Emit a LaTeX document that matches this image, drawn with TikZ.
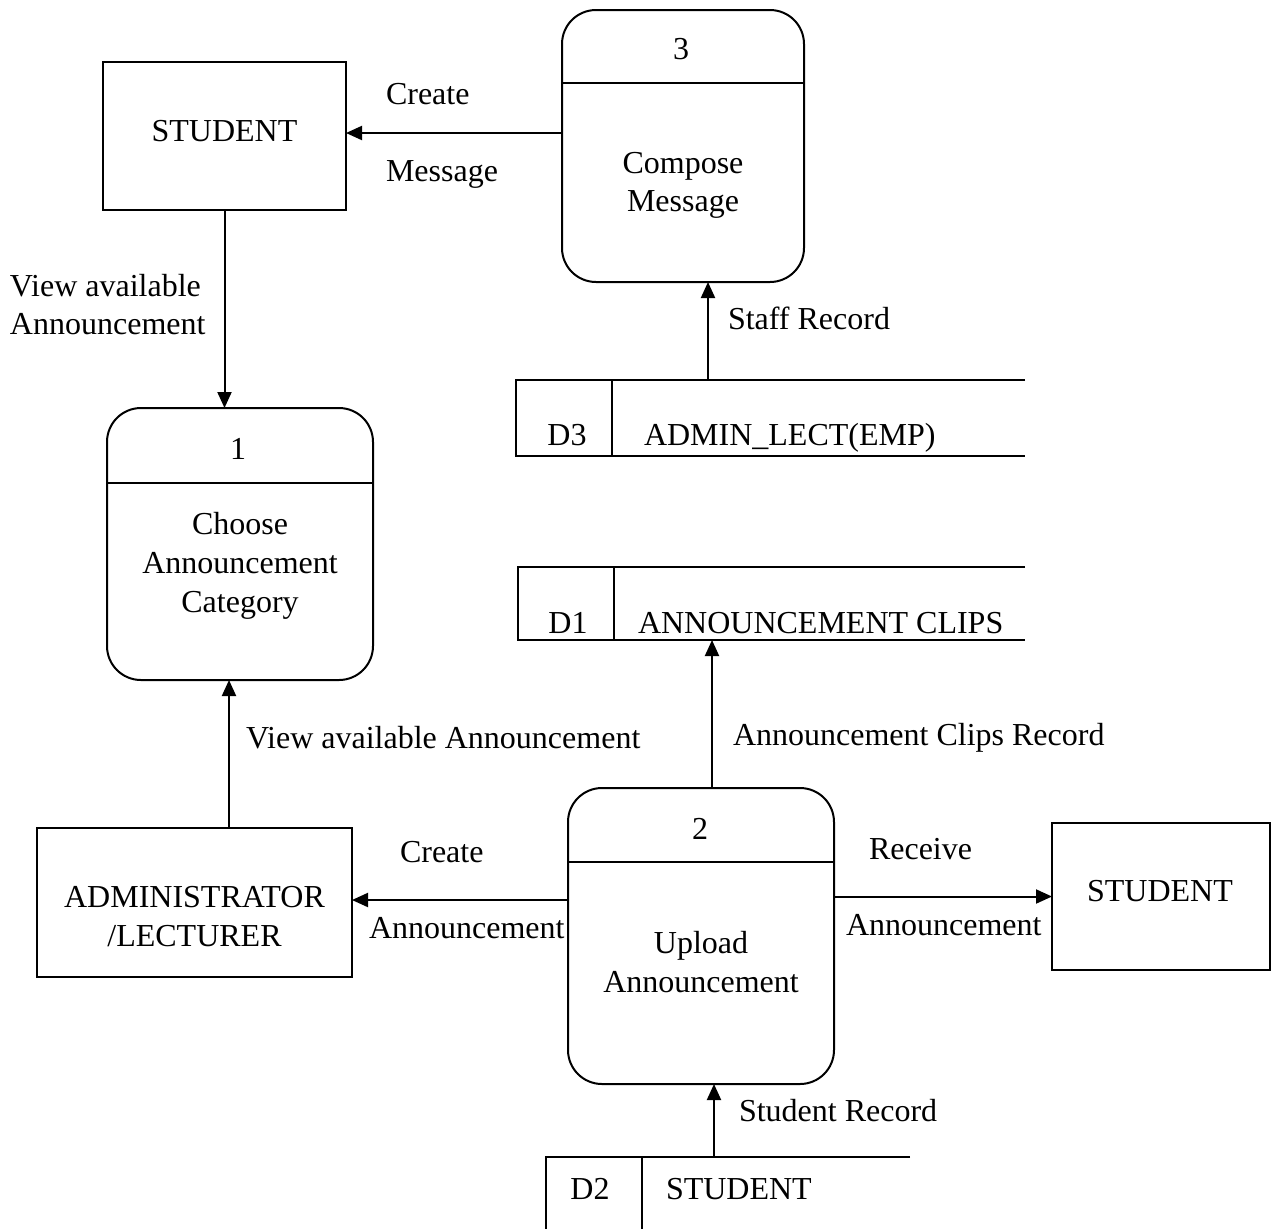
\documentclass[tikz,border=0pt]{standalone}
\usepackage{fontspec}
\setmainfont{Liberation Serif}
\usetikzlibrary{arrows.meta}
\begin{document}
\begin{tikzpicture}[x=0.5pt,y=-0.5pt,
  every node/.style={font=\fontsize{16}{19.5}\selectfont, inner sep=0pt, outer sep=0pt},
  entity/.style={draw, line width=1pt, rectangle},
  process/.style={draw, line width=1pt, rectangle, rounded corners=17pt},
  store/.style={line width=1pt},
  flow/.style={line width=1pt, -{Triangle[length=8pt,width=7pt]}},
  lbl/.style={anchor=base west},
  ctr/.style={anchor=base}]
\useasboundingbox (0,0) rectangle (1275,1228);

% external entities
\node[entity, minimum width=121.5pt, minimum height=74pt] (S1) at (224.5,136) {};
\node[ctr] (S1t) at (224.5,141) {STUDENT};
\node[entity, minimum width=157.5pt, minimum height=74.5pt] (AD) at (194.5,902.5) {};
\node[ctr] (ADt1) at (194.5,907) {ADMINISTRATOR};
\node[ctr] (ADt2) at (194.5,946) {/LECTURER};
\node[entity, minimum width=109pt, minimum height=73.5pt] (S2) at (1161,896.5) {};
\node[ctr] (S2t) at (1160,901) {STUDENT};

% processes
\node[process, minimum width=121pt, minimum height=136pt] (P3) at (683,146) {};
\draw[line width=1pt] (P3.west |- 0,83) -- (P3.east |- 0,83);
\node[ctr] (P3n) at (681,59) {3};
\node[ctr] (P3a) at (683,173) {Compose};
\node[ctr] (P3b) at (683,211) {Message};

\node[process, minimum width=133pt, minimum height=136pt] (P1) at (240,544) {};
\draw[line width=1pt] (P1.west |- 0,483) -- (P1.east |- 0,483);
\node[ctr] (P1n) at (238,459) {1};
\node[ctr] (P1a) at (240,534) {Choose};
\node[ctr] (P1b) at (240,573) {Announcement};
\node[ctr] (P1c) at (240,612) {Category};

\node[process, minimum width=133pt, minimum height=148pt] (P2) at (701,936) {};
\draw[line width=1pt] (P2.west |- 0,862) -- (P2.east |- 0,862);
\node[ctr] (P2n) at (700,839) {2};
\node[ctr] (P2a) at (701,953) {Upload};
\node[ctr] (P2b) at (701,992) {Announcement};

% data stores
\draw[store] (1025,380) -- (516,380) -- (516,456) -- (1025,456);
\draw[store] (612,380) -- (612,456);
\coordinate (D3in) at (708,380);
\node[ctr] (D3id) at (567,445) {D3};
\node[lbl] (D3nm) at (644,445) {ADMIN\_LECT(EMP)};

\draw[store] (1025,567) -- (518,567) -- (518,640) -- (1025,640);
\draw[store] (614,567) -- (614,640);
\coordinate (D1in) at (712,640);
\node[ctr] (D1id) at (568,633) {D1};
\node[lbl] (D1nm) at (638,633) {ANNOUNCEMENT CLIPS};

\draw[store] (910,1157) -- (546,1157) -- (546,1230);
\draw[store] (642,1157) -- (642,1230);
\coordinate (D2in) at (714,1157);
\node[ctr] (D2id) at (590,1199) {D2};
\node[lbl] (D2nm) at (666,1199) {STUDENT};

% connector end points on the entity sides
\coordinate (S1in) at ([yshift=1.5pt]S1.east);
\coordinate (ADin) at ([yshift=1.25pt]AD.east);
\coordinate (ADout) at ([xshift=17.25pt]AD.north);
\coordinate (P2out) at ([xshift=5.5pt]P2.north);

% data flows
\draw[flow] (P3.west |- S1in) -- (S1in);
\node[lbl] (f1a) at (386,104) {Create};
\node[lbl] (f1b) at (386,181) {Message};

\draw[flow] (S1.south) -- (S1.south |- P1.north);
\node[lbl] (f2a) at (10,296) {View available};
\node[lbl] (f2b) at (10,334) {Announcement};

\draw[flow] (D3in) -- (D3in |- P3.south);
\node[lbl] (f3) at (728,329) {Staff Record};

\draw[flow] (ADout) -- (ADout |- P1.south);
\node[lbl] (f4) at (246,748) {View available Announcement};

\draw[flow] (P2out) -- (P2out |- D1in);
\node[lbl] (f5) at (733,745) {Announcement Clips Record};

\draw[flow] (P2.west |- ADin) -- (ADin);
\node[lbl] (f6a) at (400,862) {Create};
\node[lbl] (f6b) at (369,938) {Announcement};

\draw[flow] (P2.east |- S2.west) -- (S2.west);
\node[lbl] (f7a) at (869,859) {Receive};
\node[lbl] (f7b) at (846,935) {Announcement};

\draw[flow] (D2in) -- (D2in |- P2.south);
\node[lbl] (f8) at (739,1121) {Student Record};
\end{tikzpicture}
\end{document}
